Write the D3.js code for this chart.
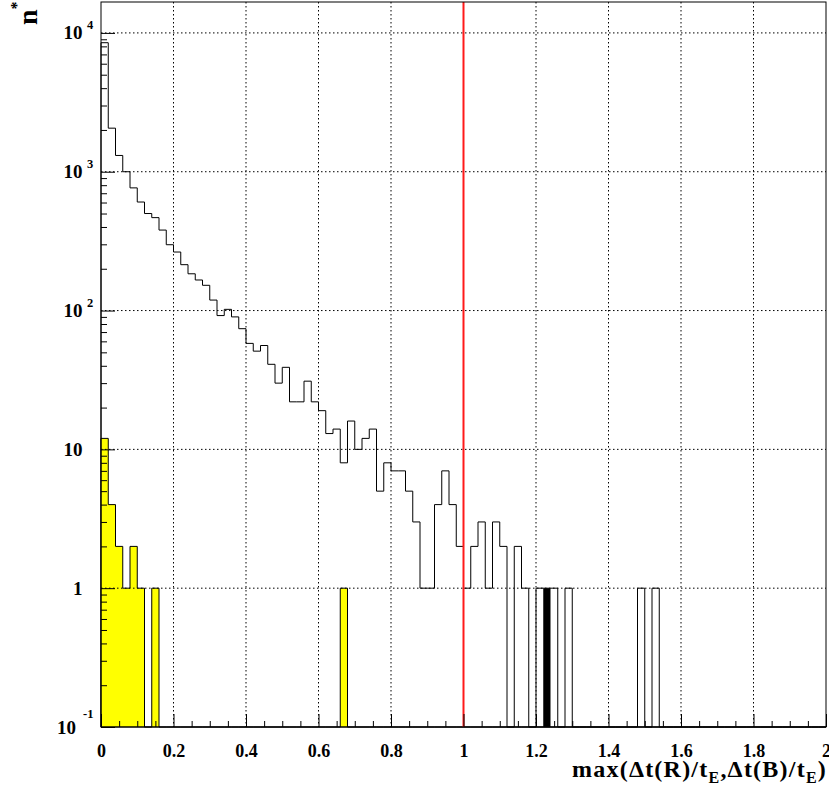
<!DOCTYPE html>
<html>
<head>
<meta charset="utf-8">
<script src="https://cdn.jsdelivr.net/npm/d3@7/dist/d3.min.js"></script>
<style>
  html, body { margin: 0; padding: 0; background: #fff; }
  svg { display: block; }
  text { font-family: "Liberation Serif", "DejaVu Serif", serif; font-weight: bold; fill: #000; }
</style>
</head>
<body>
<svg id="chart" width="829" height="794"></svg>
<script>
// ---------------- DATA ----------------
const binWidth = 0.02;          // 100 bins between 0 and 2
// all events (black outline histogram), bins 0..99
const allCounts = [
  8500, 2060, 1310, 1000, 765, 605, 500, 467, 380, 298,
  264, 214, 184, 166, 152, 119, 92, 102, 90, 74,
  58, 51, 56, 41, 30, 39, 22, 22, 31, 22,
  19, 13, 14, 8, 16, 10, 12, 14, 5, 8,
  7, 7, 5, 3, 1, 1, 4, 7, 4, 2,
  1, 2, 3, 1, 3, 2, 0, 2, 1, 0,
  1, 1, 1, 0, 1, 0, 0, 0, 0, 0,
  0, 0, 0, 0, 1, 0, 1, 0, 0, 0,
  0, 0, 0, 0, 0, 0, 0, 0, 0, 0,
  0, 0, 0, 0, 0, 0, 0, 0, 0, 0
];
// selected events (yellow filled histogram)
const selCounts = [
  12, 4, 2, 1, 2, 1, 0, 1, 0, 0,
  0, 0, 0, 0, 0, 0, 0, 0, 0, 0,
  0, 0, 0, 0, 0, 0, 0, 0, 0, 0,
  0, 0, 0, 1, 0, 0, 0, 0, 0, 0,
  0, 0, 0, 0, 0, 0, 0, 0, 0, 0,
  0, 0, 0, 0, 0, 0, 0, 0, 0, 0,
  0, 0, 0, 0, 0, 0, 0, 0, 0, 0,
  0, 0, 0, 0, 0, 0, 0, 0, 0, 0,
  0, 0, 0, 0, 0, 0, 0, 0, 0, 0,
  0, 0, 0, 0, 0, 0, 0, 0, 0, 0
];
// black filled histogram (only one non-empty bin)
const blackBins = [61];
const blackCounts = [1];
const cutValue = 1.0;           // red vertical line

const xTicks = [0, 0.2, 0.4, 0.6, 0.8, 1, 1.2, 1.4, 1.6, 1.8, 2];
const xTickLabels = ["0", "0.2", "0.4", "0.6", "0.8", "1", "1.2", "1.4", "1.6", "1.8", "2"];
const yTicks = [0.1, 1, 10, 100, 1000, 10000];
const yTickBase = ["10", "1", "10", "10", "10", "10"];
const yTickExp  = ["-1", "", "", "2", "3", "4"];
const xTitleParts = [["max(\u0394t(R)/t", 0], ["E", 1], [",\u0394t(B)/t", 0], ["E", 1], [")", 0]];

// ---------------- LAYOUT ----------------
const svg = d3.select("#chart");
const L = 101, R = 826, T = 2, B = 727;
const x = d3.scaleLinear().domain([0, 2]).range([L, R]);
const y = d3.scaleLog().domain([0.1, 16700]).range([B, T]);
const yv = v => v > 0 ? y(v) : B;

// histogram outline path
function histPath(vals) {
  let d = `M${x(0)},${B}`;
  vals.forEach((v, i) => {
    d += `V${yv(v)}H${x((i + 1) * binWidth)}`;
  });
  d += `V${B}`;
  return d;
}

// black outline histogram
svg.append("path")
  .attr("d", histPath(allCounts))
  .attr("fill", "none")
  .attr("stroke", "#000")
  .attr("stroke-width", 1);

// yellow filled histogram
svg.append("path")
  .attr("d", histPath(selCounts) + "Z")
  .attr("fill", "#ffff00")
  .attr("stroke", "#000")
  .attr("stroke-width", 1);

// black filled bins
svg.selectAll("rect.blk").data(blackBins).enter().append("rect")
  .attr("class", "blk")
  .attr("x", d => x(d * binWidth))
  .attr("width", x(binWidth) - x(0))
  .attr("y", (d, i) => y(blackCounts[i]))
  .attr("height", (d, i) => B - y(blackCounts[i]))
  .attr("fill", "#000");

// grid (dotted)
const gridX = xTicks.filter(v => v > 0 && v < 2);
svg.selectAll("line.gx").data(gridX).enter().append("line")
  .attr("x1", d => x(d)).attr("x2", d => x(d))
  .attr("y1", T).attr("y2", B)
  .attr("stroke", "#000").attr("stroke-width", 1)
  .attr("stroke-dasharray", "1.5,2.5");
const gridY = yTicks.filter(v => v > 0.1);
svg.selectAll("line.gy").data(gridY).enter().append("line")
  .attr("x1", L).attr("x2", R)
  .attr("y1", d => y(d)).attr("y2", d => y(d))
  .attr("stroke", "#000").attr("stroke-width", 1)
  .attr("stroke-dasharray", "1.5,2.5");

// red cut line
svg.append("line")
  .attr("x1", x(cutValue)).attr("x2", x(cutValue))
  .attr("y1", T).attr("y2", B)
  .attr("stroke", "#ff1a1a").attr("stroke-width", 2);

// x axis ticks (pointing up into the frame)
const xMinor = d3.range(0, 2.0001, 0.05).filter(v => Math.abs(v * 5 - Math.round(v * 5)) > 1e-6);
svg.append("g").attr("transform", `translate(0,${B})`)
  .call(d3.axisBottom(x).tickValues(xMinor).tickSizeInner(-6).tickSizeOuter(0).tickFormat(""))
  .call(g => g.select(".domain").remove());
const gxa = svg.append("g").attr("transform", `translate(0,${B})`)
  .call(d3.axisBottom(x).tickValues(xTicks).tickSizeInner(-13).tickSizeOuter(0).tickPadding(17)
    .tickFormat((d, i) => xTickLabels[i]))
  .call(g => g.select(".domain").remove());
gxa.selectAll("text").style("font-size", "18px").style("font-family", "'Liberation Serif', serif")
  .style("font-weight", "bold").attr("fill", "#000");
gxa.selectAll("line").attr("stroke", "#000");

// y axis ticks (pointing right into the frame)
const yMinor = [];
for (let k = -1; k <= 4; k++) for (let m = 2; m <= 9; m++) {
  const v = m * Math.pow(10, k);
  if (v < 16700) yMinor.push(v);
}
svg.append("g").attr("transform", `translate(${L},0)`)
  .call(d3.axisLeft(y).tickValues(yMinor).tickSizeInner(-6).tickSizeOuter(0).tickFormat(""))
  .call(g => g.select(".domain").remove());
svg.append("g").attr("transform", `translate(${L},0)`)
  .call(d3.axisLeft(y).tickValues(yTicks).tickSizeInner(-14).tickSizeOuter(0).tickFormat(""))
  .call(g => g.select(".domain").remove());

// y tick labels with exponents
yTicks.forEach((v, i) => {
  const ty = y(v);
  const neg = yTickExp[i].startsWith("-");
  const baseRight = yTickExp[i] && neg ? 76 : 82.5;
  svg.append("text")
    .attr("x", baseRight).attr("y", ty + 6.5)
    .attr("text-anchor", "end")
    .style("font-size", "19px")
    .text(yTickBase[i]);
  if (yTickExp[i]) {
    svg.append("text")
      .attr("x", neg ? 83 : 87).attr("y", neg ? ty - 9.5 : ty - 4)
      .style("font-size", "12.5px")
      .text(yTickExp[i]);
  }
});

// frame
svg.append("rect")
  .attr("x", L).attr("y", T).attr("width", R - L).attr("height", B - T)
  .attr("fill", "none").attr("stroke", "#000").attr("stroke-width", 1);

// x axis title
const xt = svg.append("text")
  .attr("x", 572).attr("y", 777)
  .style("font-size", "24px");
xTitleParts.forEach(([s, sub], i) => {
  const prevSub = i > 0 && xTitleParts[i - 1][1];
  xt.append("tspan")
    .attr("dy", sub ? 6 : (prevSub ? -6 : 0))
    .style("font-size", sub ? "16px" : "24px")
    .text(s);
});
const natural = xt.node().getComputedTextLength();
const nChars = xTitleParts.map(p => p[0]).join("").length;
xt.style("letter-spacing", ((827 - 572 - natural) / nChars) + "px");

// y axis title "n*" (rotated)
const yt = svg.append("text")
  .attr("transform", "translate(37,25) rotate(-90)")
  .attr("text-anchor", "start")
  .style("font-size", "28px");
yt.append("tspan").text("n");
yt.append("tspan").attr("dy", -15).style("font-size", "16px").text("*");
</script>
</body>
</html>
